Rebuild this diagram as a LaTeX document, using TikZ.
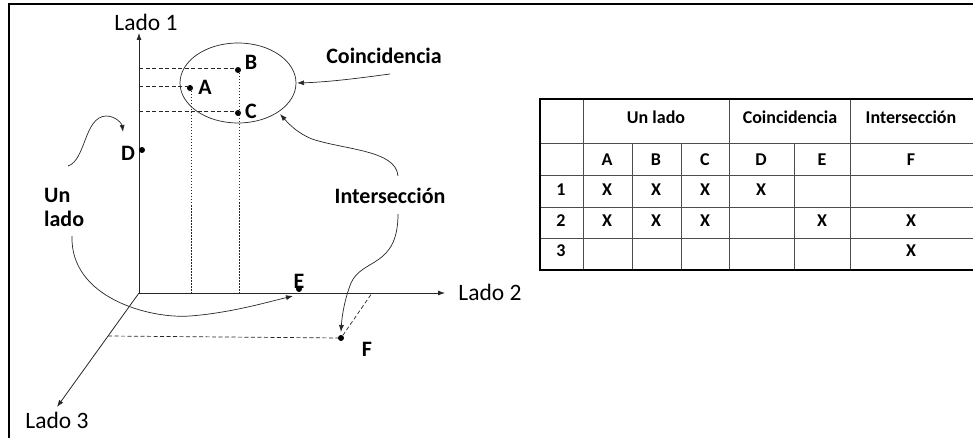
\documentclass[tikz,border=0pt]{standalone}
\usepackage{fontspec}
\setmainfont{Carlito}
\usetikzlibrary{arrows.meta}
\begin{document}
\begin{tikzpicture}[x=1pt,y=-1pt,
  ax/.style={line width=0.8pt,black!85,-{Latex[length=7pt,width=5pt]}},
  cur/.style={line width=0.7pt,black!85,-{Latex[length=7pt,width=5pt]}},
  proj/.style={line width=0.7pt,black!85,dash pattern=on 4pt off 2.5pt},
  vproj/.style={line width=0.7pt,black!85,dash pattern=on 1.5pt off 1.5pt},
  dot/.style={circle,fill,inner sep=0pt,minimum size=6pt},
  lbl/.style={font=\fontsize{22}{26}\selectfont\bfseries,inner sep=0pt},
  axl/.style={font=\fontsize{23.5}{27}\selectfont,inner sep=0pt},
  tb/.style={font=\fontsize{18}{21}\selectfont\bfseries,inner sep=0pt},
  tline/.style={line width=0.7pt,black!70},
  tframe/.style={line width=2.5pt}]
\useasboundingbox (0,0) rectangle (973,438);
% outer frame (top and left only)
\draw[line width=2pt] (9,438) -- (9,4) -- (973,4);

% axes
\coordinate (O) at (139,293);
\coordinate (L1) at (139,33);
\coordinate (L2) at (445,293);
\coordinate (L3) at (57,407);
\draw[ax] (O) -- (L1);
\draw[ax] (O) -- (L2);
\draw[ax] (O) -- (L3);
\node[axl] (tL1) at (146,22) {Lado 1};
\node[axl] (tL2) at (490,292) {Lado 2};
\node[axl] (tL3) at (57,420) {Lado 3};

% ellipse
\draw[line width=0.7pt,black!85] (238,83) ellipse [x radius=58, y radius=40];

% points
\node[dot] (A) at (190,88) {};
\node[dot] (B) at (238,70) {};
\node[dot] (C) at (238,113) {};
\node[dot] (D) at (142,150) {};
\node[dot] (E) at (299,289) {};
\node[dot] (F) at (341,338) {};
\node[lbl] (tA) at (205,87) {A};
\node[lbl] (tB) at (251,62) {B};
\node[lbl] (tC) at (251,111) {C};
\node[lbl] (tD) at (128,153) {D};
\node[lbl] (tE) at (299,281) {E};
\node[lbl] (tF) at (367,349) {F};

% projections
\coordinate (yB) at (139,68);
\coordinate (yA) at (139,86);
\coordinate (yC) at (139,111);
\coordinate (xA) at (191,293);
\coordinate (xB) at (239,293);
\coordinate (zF) at (108,336);
\coordinate (xF) at (372,293);
\draw[proj] (yB) -- (237,68);
\draw[proj] (yA) -- (189,86);
\draw[proj] (yC) -- (237,111);
\draw[vproj] (191,88) -- (xA);
\draw[vproj] (239,70) -- (xB);
\draw[proj] (zF) -- (F);
\draw[proj] (F) -- (xF);

% labels
\node[lbl] (coin) at (384,56) {Coincidencia};
\node[lbl] (inter) at (390,196) {Intersección};
\node[lbl,anchor=west,align=left] (unl) at (44,207) {Un\\[-2pt]lado};

% curved arrows
\coordinate (c1) at (390,74);
\coordinate (c1t) at (297,83);
\draw[cur] (c1) .. controls (360,78) and (330,82) .. (c1t);
\coordinate (i1) at (398,176);
\coordinate (i1t) at (280,114);
\draw[cur] (i1) .. controls (396,150) and (345,150) .. (312,139) .. controls (297,133) and (288,123) .. (i1t);
\coordinate (i2) at (398,214);
\coordinate (i2t) at (341,332);
\draw[cur] (i2) .. controls (398,268) and (362,258) .. (351,283) .. controls (345,298) and (342,315) .. (i2t);
\coordinate (u1) at (68,166);
\coordinate (u1t) at (123,132);
\draw[cur] (u1) .. controls (86,160) and (84,117) .. (106,116) .. controls (116,116) and (122,124) .. (u1t);
\coordinate (u2) at (72,236);
\coordinate (u2t) at (293,296);
\draw[cur] (u2) .. controls (70,298) and (150,319) .. (190,316) .. controls (230,313) and (268,302) .. (u2t);

% table
\draw[tline] (540,143) -- (973,143);
\draw[tline] (540,175) -- (973,175);
\draw[tline] (540,207) -- (973,207);
\draw[tline] (540,238) -- (973,238);
\draw[tline] (583,99) -- (583,270);
\draw[tline] (729,99) -- (729,270);
\draw[tline] (850,99) -- (850,270);
\draw[tline] (632,143) -- (632,270);
\draw[tline] (681,143) -- (681,270);
\draw[tline] (794,143) -- (794,270);
\draw[line width=2pt] (540,99) -- (973,99);
\draw[tframe] (540,98) -- (540,270) -- (973,270);

\node[tb] (h1) at (656,117) {Un lado};
\node[tb] (h2) at (790,117) {Coincidencia};
\node[tb] (h3) at (911,117) {Intersección};
\node[tb] (cA) at (607,160) {A};
\node[tb] (cB) at (656,160) {B};
\node[tb] (cC) at (705,160) {C};
\node[tb] (cD) at (761,160) {D};
\node[tb] (cE) at (822,160) {E};
\node[tb] (cF) at (911,160) {F};
\node[tb] (r1) at (561,190) {1};
\node[tb] (r2) at (561,221) {2};
\node[tb] (r3) at (561,251) {3};
\node[tb] (x1a) at (607,190) {X};
\node[tb] (x1b) at (656,190) {X};
\node[tb] (x1c) at (705,190) {X};
\node[tb] (x1d) at (761,190) {X};
\node[tb] (x2a) at (607,221) {X};
\node[tb] (x2b) at (656,221) {X};
\node[tb] (x2c) at (705,221) {X};
\node[tb] (x2e) at (822,221) {X};
\node[tb] (x2f) at (911,221) {X};
\node[tb] (x3f) at (911,251) {X};
\end{tikzpicture}
\end{document}
